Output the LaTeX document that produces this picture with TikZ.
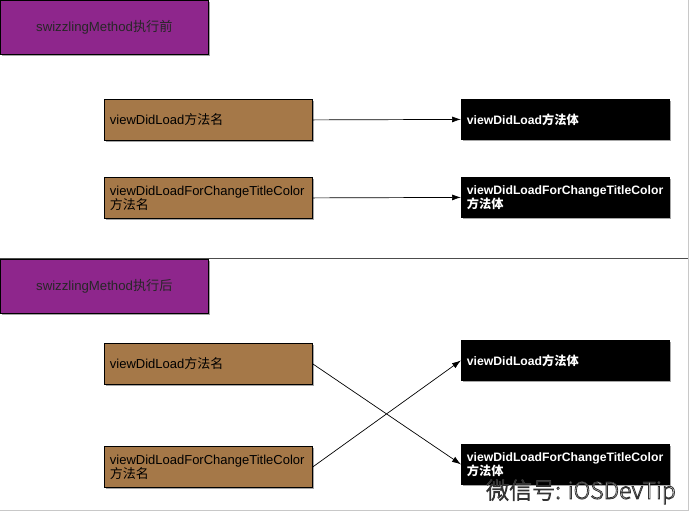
\documentclass[tikz,border=0pt]{standalone}
\usepackage{fontspec}
\setmainfont{Liberation Sans}
\newfontfamily\cjk{Noto Sans CJK SC}
\newfontfamily\cjklight{Noto Sans CJK SC Light}
\usetikzlibrary{shadows,arrows.meta}
\definecolor{purp}{RGB}{142,38,140}
\definecolor{brownbox}{RGB}{165,120,72}
\definecolor{frame}{RGB}{200,200,200}
\newcommand{\outlinedtext}[1]{\special{pdf:literal direct 2 Tr 0.8 w 0.2 G}#1\special{pdf:literal direct 0 Tr}}
\tikzset{
  base/.style={anchor=north west, draw=black, line width=0.8pt, inner xsep=5pt, inner ysep=3pt,
    minimum width=208pt, text width=197pt, align=left, font=\fontsize{13}{14}\selectfont,
    drop shadow={shadow xshift=1.5pt, shadow yshift=-1.5pt, opacity=0.35, fill=black}},
  titlebox/.style={base, fill=purp, minimum height=54pt, align=center, text=black!85, font=\fontsize{13.2}{14}\selectfont},
  srcbox/.style={base, fill=brownbox, minimum height=41pt, text=black},
  dstbox/.style={base, fill=black, minimum height=40pt, text=white, font=\fontsize{12.2}{14}\selectfont\bfseries},
  conn/.style={-{Latex[length=9pt,width=6pt]}, line width=0.7pt, black}
}
\begin{document}
\begin{tikzpicture}[x=1pt,y=-1pt]
\useasboundingbox (0,0) rectangle (700,528);
\fill[white] (0,0) rectangle (700,528);
% frame
\draw[frame, line width=1pt] (688,0) -- (688,510) -- (0,510);
\draw[black!70, line width=1pt] (0,258) -- (688,258);
% top part
\node[titlebox] (t1) at (0,0) {swizzlingMethod{\cjk 执行前}};
\node[srcbox] (a1) at (104,99) {viewDidLoad{\cjk 方法名}};
\node[srcbox] (a2) at (104,177) {viewDidLoadForChangeTitleColor\\{\cjk 方法名}};
\node[dstbox] (b1) at (461,99) {viewDidLoad{\cjk\bfseries 方法体}};
\node[dstbox] (b2) at (461,177) {viewDidLoadForChangeTitleColor\\{\cjk\bfseries 方法体}};
\draw[conn] (a1.east) -- (b1.west);
\draw[conn] (a2.east) -- (b2.west);
% bottom part
\node[titlebox] (t2) at (0,259) {swizzlingMethod{\cjk 执行后}};
\node[srcbox] (c1) at (104,343) {viewDidLoad{\cjk 方法名}};
\node[srcbox] (c2) at (104,446) {viewDidLoadForChangeTitleColor\\{\cjk 方法名}};
\node[dstbox] (d1) at (461,340) {viewDidLoad{\cjk\bfseries 方法体}};
\node[dstbox] (d2) at (461,444) {viewDidLoadForChangeTitleColor\\{\cjk\bfseries 方法体}};
\draw[conn] (c1.east) -- (d2.west);
\draw[conn] (c2.east) -- (d1.west);
% watermark
\node[anchor=west, inner sep=0pt, text=white, font=\cjklight\fontsize{23}{24}\selectfont] (wm) at (486,492) {\outlinedtext{微信号: iOSDevTip}};
\end{tikzpicture}
\end{document}
